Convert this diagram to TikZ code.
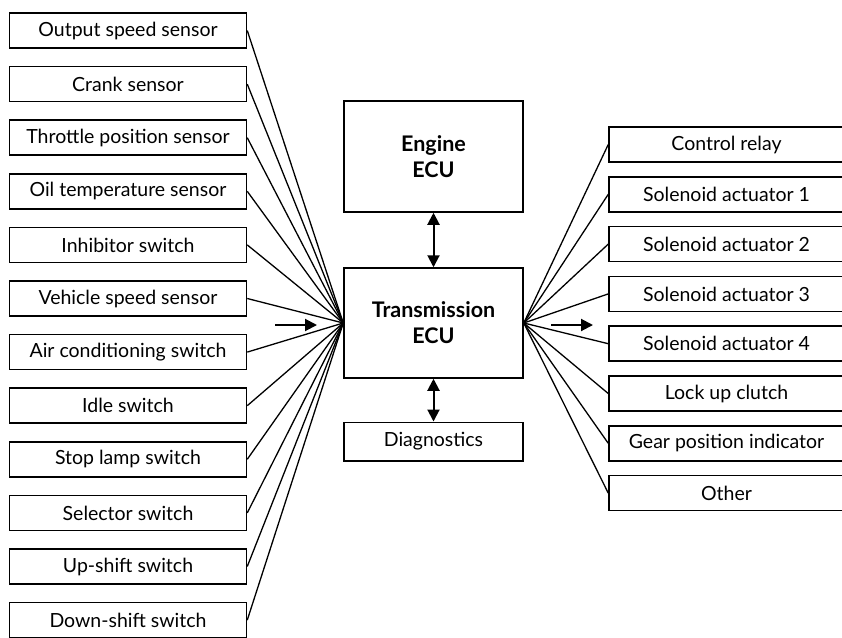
\documentclass[tikz,border=0pt]{standalone}
\usepackage{fontspec}
\setmainfont{Lato}
\usetikzlibrary{arrows.meta}
\begin{document}
\begin{tikzpicture}[x=1pt,y=-1pt,
  lbox/.style={draw, line width=1.5pt, minimum width=237pt, minimum height=35pt, inner sep=0pt, font=\fontsize{19.5}{22}\selectfont},
  rbox/.style={draw, line width=1.5pt, minimum width=235pt, minimum height=35pt, inner sep=0pt, font=\fontsize{19.5}{22}\selectfont},
  ecu/.style={draw, line width=1.5pt, minimum width=179pt, inner sep=0pt, align=center, font=\fontsize{21.5}{26}\selectfont\bfseries},
  wire/.style={line width=1.3pt},
  arr/.style={line width=2pt, -{Triangle[length=12pt,width=12pt]}},
  darr/.style={line width=2pt, {Triangle[length=12pt,width=12pt]}-{Triangle[length=12pt,width=12pt]}}
]
\useasboundingbox (0,0) rectangle (842,637);

% left input boxes
\node[lbox] (L1)  at (128, 30.5) {Output speed sensor};
\node[lbox] (L2)  at (128, 84.1) {Crank sensor};
\node[lbox] (L3)  at (128,137.7) {Throttle position sensor};
\node[lbox] (L4)  at (128,191.3) {Oil temperature sensor};
\node[lbox] (L5)  at (128,244.9) {Inhibitor switch};
\node[lbox] (L6)  at (128,298.5) {Vehicle speed sensor};
\node[lbox] (L7)  at (128,352.1) {Air conditioning switch};
\node[lbox] (L8)  at (128,405.7) {Idle switch};
\node[lbox] (L9)  at (128,459.3) {Stop lamp switch};
\node[lbox] (L10) at (128,512.9) {Selector switch};
\node[lbox] (L11) at (128,566.5) {Up-shift switch};
\node[lbox] (L12) at (128,620.1) {Down-shift switch};

% centre boxes
\node[ecu, minimum height=111pt] (E) at (433.5,156.5) {Engine\\ECU};
\node[ecu, minimum height=110pt] (T) at (433.5,323) {Transmission\\ECU};
\node[draw, line width=1.5pt, minimum width=179pt, minimum height=38.5pt, inner sep=0pt, font=\fontsize{19.5}{22}\selectfont] (D) at (433.5,441.5) {Diagnostics};

% right output boxes
\node[rbox] (R1) at (726.5,144.5) {Control relay};
\node[rbox] (R2) at (726.5,194.3) {Solenoid actuator 1};
\node[rbox] (R3) at (726.5,244.1) {Solenoid actuator 2};
\node[rbox] (R4) at (726.5,293.9) {Solenoid actuator 3};
\node[rbox] (R5) at (726.5,343.7) {Solenoid actuator 4};
\node[rbox] (R6) at (726.5,393.5) {Lock up clutch};
\node[rbox] (R7) at (726.5,443.3) {Gear position indicator};
\node[rbox] (R8) at (726.5,493.1) {Other};

% wires
\foreach \i in {1,...,12} \draw[wire] (L\i.east) -- (T.west);
\foreach \i in {1,...,8} \draw[wire] (T.east) -- (R\i.west);

% arrows
\draw[darr] (E.south) -- (T.north);
\draw[darr] (T.south) -- (D.north);
\coordinate (ia) at (275,325);
\coordinate (ib) at (317,325);
\coordinate (oa) at (551,325);
\coordinate (ob) at (593,325);
\draw[arr] (ia) -- (ib);
\draw[arr] (oa) -- (ob);
\end{tikzpicture}
\end{document}
